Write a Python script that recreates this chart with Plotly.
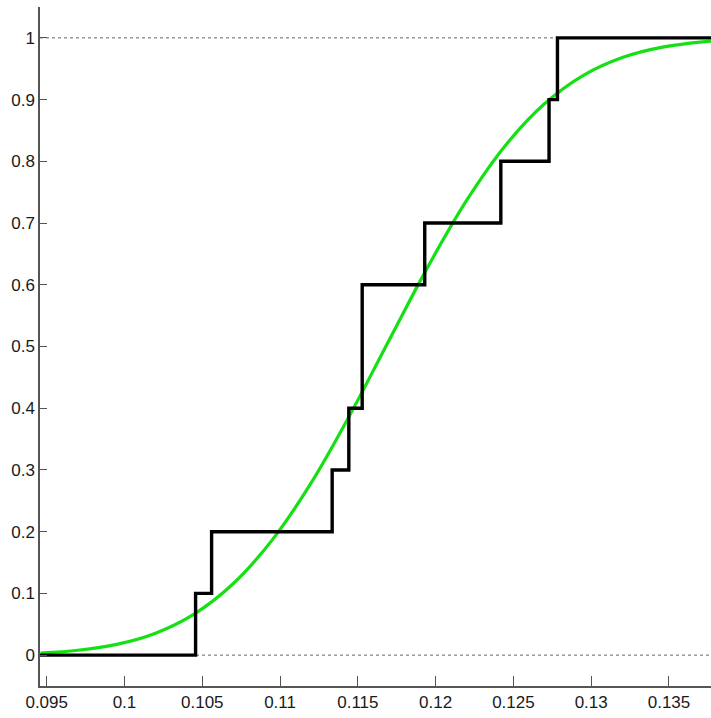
import plotly.graph_objects as go

# Sorted sample values (empirical CDF jump locations)
sample_x = [0.10457, 0.10560, 0.11335, 0.11442, 0.11528, 0.11528,
            0.11930, 0.12419, 0.12729, 0.12783]
cdf_levels = [0.1, 0.2, 0.3, 0.4, 0.5, 0.6, 0.7, 0.8, 0.9, 1.0]

# Fitted normal CDF, sampled along the axis
fit_x = [0.0946, 0.0970, 0.0995, 0.1020, 0.1045, 0.1070, 0.1095, 0.1120,
         0.1145, 0.1170, 0.1195, 0.1220, 0.1245, 0.1270, 0.1295, 0.1320,
         0.1345, 0.1377]
fit_y = [0.0034, 0.0079, 0.0174, 0.0355, 0.0668, 0.1160, 0.1867, 0.2792,
         0.3897, 0.5097, 0.6290, 0.7370, 0.8261, 0.8932, 0.9393, 0.9681,
         0.9846, 0.9946]

x_ticks = [0.095, 0.1, 0.105, 0.11, 0.115, 0.12, 0.125, 0.13, 0.135]
x_tick_text = ["0.095", "0.1", "0.105", "0.11", "0.115", "0.12", "0.125", "0.13", "0.135"]
y_ticks = [0, 0.1, 0.2, 0.3, 0.4, 0.5, 0.6, 0.7, 0.8, 0.9, 1]
y_tick_text = ["0", "0.1", "0.2", "0.3", "0.4", "0.5", "0.6", "0.7", "0.8", "0.9", "1"]

x_lo, x_hi = 0.09457, 0.13770
y_lo, y_hi = -0.05, 1.05

step_x = [x_lo] + sample_x + [x_hi]
step_y = [0.0] + cdf_levels + [1.0]

fig = go.Figure()

# dotted reference lines at 0 and 1
for level in (0, 1):
    fig.add_trace(go.Scatter(
        x=[x_lo, x_hi], y=[level, level], mode="lines",
        line=dict(color="#666666", width=1, dash="dot"),
        hoverinfo="skip", showlegend=False))

fig.add_trace(go.Scatter(
    x=fit_x, y=fit_y, mode="lines",
    line=dict(color="#14e014", width=3.2, shape="spline"),
    showlegend=False))

fig.add_trace(go.Scatter(
    x=step_x, y=step_y, mode="lines",
    line=dict(color="#000000", width=3.4, shape="hv"),
    showlegend=False))

axis_font = dict(family="Liberation Sans Narrow, Liberation Sans, Arial, sans-serif",
                 size=17, color="#1a1a1a")

fig.update_layout(
    width=711, height=718,
    margin=dict(l=40, r=0, t=7, b=32),
    paper_bgcolor="white", plot_bgcolor="white",
    showlegend=False,
    xaxis=dict(
        range=[x_lo, x_hi], tickvals=x_ticks, ticktext=x_tick_text,
        ticks="inside", ticklen=10, tickwidth=1, tickcolor="#555555",
        showline=True, linecolor="#555555", linewidth=1.5,
        showgrid=False, zeroline=False, tickfont=axis_font),
    yaxis=dict(
        range=[y_lo, y_hi], tickvals=y_ticks, ticktext=y_tick_text,
        ticks="inside", ticklen=7, tickwidth=1, tickcolor="#555555",
        showline=True, linecolor="#555555", linewidth=1.5,
        showgrid=False, zeroline=False, tickfont=axis_font),
)

fig.write_html("out.html")
